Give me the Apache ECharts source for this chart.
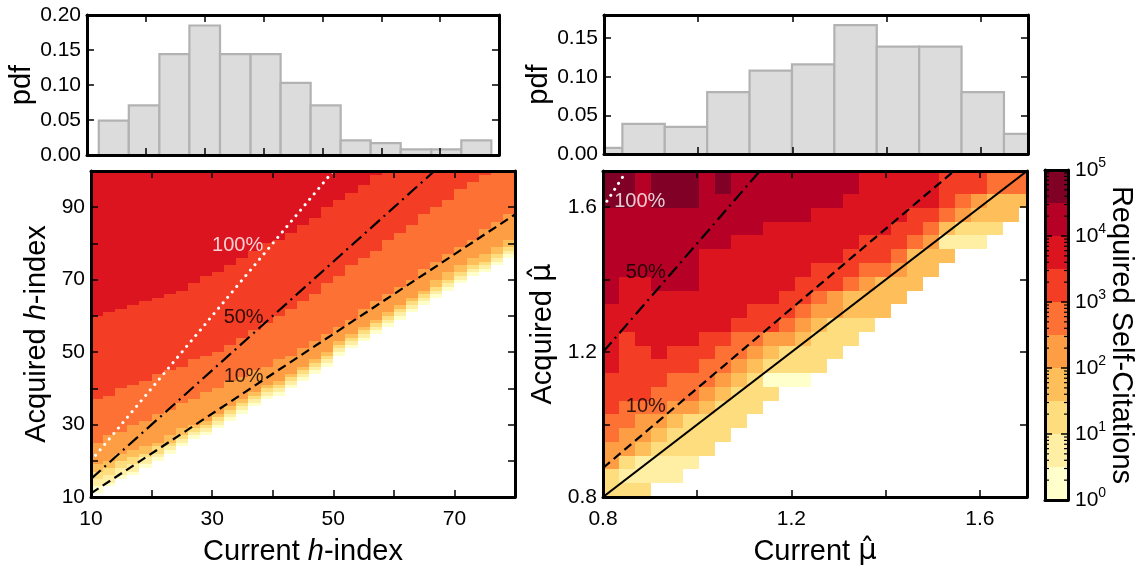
<!DOCTYPE html>
<html><head><meta charset="utf-8">
<script src="https://cdn.jsdelivr.net/npm/echarts/dist/echarts.min.js"></script>
<style>html,body{margin:0;padding:0;background:#fff}#c{width:1143px;height:571px}</style>
</head><body><div id="c"></div>
<script>
// ---------------- DATA ----------------
// top-left histogram of current h-index
const hHistEdges = [12.0, 17.1, 22.3, 27.4, 32.6, 37.8, 42.9, 48.0, 53.1, 58.2, 63.3, 68.5, 73.6, 78.7];
const hHistPdf   = [0.049, 0.071, 0.144, 0.185, 0.144, 0.144, 0.103, 0.071, 0.021, 0.017, 0.008, 0.008, 0.021];
// top-right histogram of current mu-hat
const muHistEdges = [0.749, 0.839, 0.929, 1.019, 1.109, 1.199, 1.289, 1.379, 1.469, 1.559, 1.649, 1.739];
const muHistPdf   = [0.008, 0.039, 0.035, 0.080, 0.108, 0.116, 0.167, 0.139, 0.139, 0.080, 0.026];

// left heatmap: columns of current h (2 wide), tops of each colour level (acquired h)
const hColWidth = 2;
const hCols     = [10,12,14,16,18,20,22,24,26,28,30,32,34,36,38,40,42,44,46,48,50,52,54,56,58,60,62,64,66,68,70,72,74,76,78];
const hWhiteTop = [11,13,15,16,18,20,22,24,26,27,29,31,33,35,37,38,40,42,44,46,49,51,53,55,57,59,61,63,65,67,69,71,72,74,76];
const hTop1     = [13,14,16,17,19,21,23,25,27,28,30,32,34,36,38,39,41,43,45,47,50,52,54,56,58,60,62,64,66,68,70,72,73,75,77];
const hTop2     = [15,16,18,19,21,22,24,26,28,29,31,33,35,37,39,40,42,44,46,48,51,53,55,57,59,61,63,65,67,69,71,73,74,76,78];
const hTop3     = [17,18,20,21,22,24,25,27,29,30,32,34,36,38,40,41,43,45,47,49,52,54,56,58,60,62,64,66,68,70,72,74,75,77,79];
const hTop4     = [19,20,22,23,24,25,27,29,30,31,33,35,37,39,41,42,44,46,48,50,53,55,57,59,61,63,65,67,70,72,74,76,77,79,81];
const hTop5     = [25,27,28,30,31,33,34,36,37,39,40,42,43,45,46,48,49,51,53,55,57,59,62,64,66,68,70,73,75,77,79,81,84,86,88];
const hTop6     = [37,38,40,41,42,44,45,46,48,49,50,52,54,56,58,60,62,64,66,69,71,74,76,78,81,83,85,88,90,92,95,97,99,100,100];
const hTop7     = [60,61,62,63,64,65,66,67,69,71,72,74,76,78,80,81,83,85,87,90,92,94,96,99,100,100,100,100,100,100,100,100,100,100,100];
const hMaxY = 100;

// right heatmap: cell grid (mu-hat), rows listed from top to bottom as [level, run length]
const muX0 = 0.8, muCellW = 0.034, muY0 = 0.8, muCellH = 0.038;
const muRows = [
  [[10,2],[9,1],[10,3],[9,1],[10,1],[9,8],[8,5],[7,3],[6,3]],
  [[10,2],[9,1],[10,3],[9,1],[10,1],[9,8],[8,5],[7,3],[6,3]],
  [[10,2],[9,1],[10,3],[9,9],[8,6],[7,1],[6,1],[5,1],[4,3]],
  [[9,13],[8,6],[7,2],[6,1],[5,1],[4,3],[0,1]],
  [[9,10],[8,8],[7,2],[6,1],[4,1],[3,3],[0,2]],
  [[9,8],[8,8],[7,3],[6,1],[5,1],[2,3],[0,3]],
  [[9,6],[8,9],[7,3],[6,1],[4,3],[0,5]],
  [[9,6],[8,7],[7,3],[6,2],[5,1],[4,2],[0,6]],
  [[9,1],[8,2],[9,3],[8,6],[7,3],[6,1],[5,1],[4,3],[0,7]],
  [[9,1],[8,10],[7,2],[6,1],[5,1],[4,4],[0,8]],
  [[8,9],[7,3],[6,1],[5,2],[4,3],[0,9]],
  [[8,8],[7,3],[6,1],[5,1],[4,1],[3,3],[0,10]],
  [[8,1],[7,1],[8,4],[7,2],[6,2],[5,2],[4,1],[3,3],[0,11]],
  [[8,1],[7,2],[8,1],[7,3],[6,2],[5,1],[4,1],[3,4],[0,12]],
  [[8,1],[7,5],[6,2],[5,1],[4,1],[3,4],[0,13]],
  [[7,4],[6,3],[5,1],[4,1],[3,1],[1,3],[0,14]],
  [[7,3],[6,3],[5,1],[4,1],[3,3],[0,16]],
  [[7,1],[6,3],[5,2],[4,1],[3,3],[0,17]],
  [[6,2],[5,2],[4,1],[3,4],[0,18]],
  [[6,1],[5,2],[4,1],[3,4],[0,19]],
  [[5,2],[4,1],[3,4],[0,20]],
  [[5,1],[3,1],[2,4],[0,21]],
  [[3,1],[2,4],[0,22]],
  [[3,3],[0,24]]
];

// reference lines (10%, 50%, 100% increase) and their labels
const hLine10  = [[10, 11], [80, 88]];
const hLine50  = [[10, 15], [66.7, 100]];
const hLine100 = [[10, 20], [50, 100]];
const muLineEq  = [[0.8, 0.8], [1.7, 1.7]];
const muLine10  = [[0.8, 0.88], [1.545, 1.7]];
const muLine50  = [[0.8, 1.2], [1.133, 1.7]];
const muLine100 = [[0.8, 1.6], [0.85, 1.7]];
const hLabels  = [['100%', 34.2, 79.4], ['50%', 35.2, 59.5], ['10%', 35.2, 43.3]];
const muLabels = [['100%', 0.878, 1.616], ['50%', 0.891, 1.420], ['10%', 0.891, 1.051]];

// colour bar: log10 edges of the 10 levels
const cbEdges = [0, 0.5, 1, 1.5, 2, 2.5, 3, 3.5, 4, 4.5, 5];
const levelColors = ['#ffffcc','#ffefa5','#fedd7f','#febf5a','#fd9d44','#fd7134','#f43d25','#db141f','#b60026','#800026'];

// ---------------- BUILD ----------------
const FONT = 'Liberation Sans, Arial, sans-serif';
const TICKFS = 21, NAMEFS = 29;
const histLeftData = hHistPdf.map((v, i) => [hHistEdges[i], hHistEdges[i + 1], 0, v]);
const histRightData = muHistPdf.map((v, i) => [muHistEdges[i], muHistEdges[i + 1], 0, v]);

const heatLeft = [];
hCols.forEach((x0, i) => {
  const b = [hWhiteTop[i], hTop1[i], hTop2[i], hTop3[i], hTop4[i], hTop5[i], hTop6[i], hTop7[i], hMaxY];
  for (let k = 0; k < 8; k++) if (b[k + 1] > b[k]) heatLeft.push([x0, x0 + hColWidth, b[k], b[k + 1], k + 1]);
});
const heatRight = [];
const nRows = muRows.length;
muRows.forEach((runs, r) => {
  const rowFromBottom = nRows - 1 - r;
  const y0 = muY0 + rowFromBottom * muCellH;
  let c = 0;
  runs.forEach(([lvl, n]) => {
    for (let j = 0; j < n; j++, c++) {
      if (lvl > 0) { const x0 = muX0 + c * muCellW; heatRight.push([x0, x0 + muCellW, y0, y0 + muCellH, lvl]); }
    }
  });
});
const cbData = cbEdges.slice(0, -1).map((e, i) => [0, 1, e, cbEdges[i + 1], i + 1]);
const cbMinor = [];
for (let d = 0; d < 5; d++) for (let m = 2; m <= 9; m++) cbMinor.push([d + Math.log10(m)]);

function clipTo(params, rect) {
  const cs = params.coordSys;
  return echarts.graphic.clipRectByRect(rect, { x: cs.x, y: cs.y, width: cs.width, height: cs.height });
}
function cellRender(params, api) {
  const p0 = api.coord([api.value(0), api.value(3)]);
  const p1 = api.coord([api.value(1), api.value(2)]);
  const r = clipTo(params, { x: p0[0], y: p0[1], width: p1[0] - p0[0], height: p1[1] - p0[1] });
  if (!r) return;
  const x0 = Math.round(r.x), y0 = Math.round(r.y);
  const x1 = Math.round(r.x + r.width), y1 = Math.round(r.y + r.height);
  if (x1 <= x0 || y1 <= y0) return;
  const f = levelColors[api.value(4) - 1];
  return { type: 'rect', shape: { x: x0, y: y0, width: x1 - x0, height: y1 - y0 }, style: { fill: f } };
}
function histRender(params, api) {
  const p0 = api.coord([api.value(0), api.value(3)]);
  const p1 = api.coord([api.value(1), api.value(2)]);
  const cs = params.coordSys;
  let x0 = Math.max(p0[0], cs.x), x1 = Math.min(p1[0], cs.x + cs.width);
  if (x1 <= x0) return;
  return { type: 'rect', shape: { x: x0, y: p0[1], width: x1 - x0, height: p1[1] - p0[1] },
    style: { fill: '#dcdcdc', stroke: '#b2b2b2', lineWidth: 2.2 } };
}

const tick = { show: true, inside: true, length: 7, lineStyle: { color: '#000', width: 1.5 } };
const frameLine = { show: true, onZero: false, lineStyle: { color: '#000', width: 3 } };
const lblBase = { color: '#000', fontSize: TICKFS, fontFamily: FONT };
const nameStyle = { color: '#000', fontSize: NAMEFS, fontFamily: FONT, rich: {
  i: { fontStyle: 'italic', fontSize: NAMEFS, fontFamily: FONT, color: '#000' },
  m: { fontSize: NAMEFS, fontFamily: 'DejaVu Sans', color: '#000' } } };

function near(v, list, tol) { return list.some(t => Math.abs(v - t) < tol); }

function mkAxis(gi, pos, min, max, iv, fmt, margin, name, gap, extra) {
  const a = { type: 'value', gridIndex: gi, position: pos, min, max, interval: iv, z: 10,
    axisLine: frameLine, axisTick: tick, splitLine: { show: false },
    axisLabel: fmt ? Object.assign({ show: true, formatter: fmt, margin: margin, showMaxLabel: true, showMinLabel: true }, lblBase) : { show: false } };
  if (name) { a.name = name; a.nameLocation = 'middle'; a.nameGap = gap; a.nameTextStyle = nameStyle; }
  return Object.assign(a, extra || {});
}

const fmtHx = v => near(v, [10, 30, 50, 70], 1e-6) ? String(Math.round(v)) : '';
const fmtHy = v => near(v, [10, 30, 50, 70, 90], 1e-6) ? String(Math.round(v)) : '';
const fmtMu = v => near(v, [0.8, 1.2, 1.6], 1e-6) ? (Math.round(v * 10) / 10).toFixed(1) : '';
const fmtPdfL = v => near(v, [0, 0.05, 0.1, 0.15, 0.2], 1e-6) ? v.toFixed(2) : '';
const fmtPdfR = v => near(v, [0, 0.05, 0.1, 0.15], 1e-6) ? v.toFixed(2) : '';

const grids = [
  { left: 87, top: 15, width: 412, height: 140 },
  { left: 604, top: 15, width: 424, height: 139 },
  { left: 91, top: 171, width: 424, height: 326 },
  { left: 603, top: 171, width: 424, height: 327 },
  { left: 1045, top: 170, width: 23, height: 330 }
];

const xAxis = [
  mkAxis(0, 'bottom', 10, 80, 10, null),
  mkAxis(0, 'top', 10, 80, 10, null),
  mkAxis(1, 'bottom', 0.8, 1.7, 0.2, null),
  mkAxis(1, 'top', 0.8, 1.7, 0.2, null),
  mkAxis(2, 'bottom', 10, 80, 10, fmtHx, 12, 'Current {i|h}-index', 40),
  mkAxis(2, 'top', 10, 80, 10, null),
  mkAxis(3, 'bottom', 0.8, 1.7, 0.2, fmtMu, 12, 'Current {m|\u03bc\u0302}', 40),
  mkAxis(3, 'top', 0.8, 1.7, 0.2, null),
  mkAxis(4, 'bottom', 0, 1, 1, null, 0, null, 0, { axisTick: { show: false } }),
  mkAxis(4, 'top', 0, 1, 1, null, 0, null, 0, { axisTick: { show: false } })
];
const yAxis = [
  mkAxis(0, 'left', 0, 0.2, 0.05, fmtPdfL, 6, 'pdf', 48),
  mkAxis(0, 'right', 0, 0.2, 0.05, null),
  mkAxis(1, 'left', 0, 0.18, 0.05, fmtPdfR, 6, 'pdf', 48),
  mkAxis(1, 'right', 0, 0.18, 0.05, null),
  mkAxis(2, 'left', 10, 100, 10, fmtHy, 6, 'Acquired {i|h}-index', 40),
  mkAxis(2, 'right', 10, 100, 10, null),
  mkAxis(3, 'left', 0.8, 1.7, 0.2, fmtMu, 6, 'Acquired {m|\u03bc\u0302}', 46),
  mkAxis(3, 'right', 0.8, 1.7, 0.2, null),
  mkAxis(4, 'left', 0, 5, 1, null),
  mkAxis(4, 'right', 0, 5, 1, null, 0, null, 0,
    { axisLabel: { show: true, margin: 7, formatter: v => '{b|10}{s|' + Math.round(v) + '}', color: '#000', fontFamily: FONT,
      rich: { b: { fontSize: TICKFS, fontFamily: FONT, color: '#000' }, s: { fontSize: 14, fontFamily: FONT, color: '#000', padding: [0, 0, 13, 0] } } } })
];

function lineSeries(gi, data, color, type, width, cap) {
  return { type: 'line', xAxisIndex: 2 * gi, yAxisIndex: 2 * gi, data, showSymbol: false, symbol: 'none', clip: true, z: 5,
    silent: true, lineStyle: { color, type, width, cap: cap || 'butt' } };
}
function labelSeries(gi, labels) {
  return { type: 'scatter', xAxisIndex: 2 * gi, yAxisIndex: 2 * gi, symbolSize: 0, z: 6, silent: true,
    data: labels.map(l => ({ value: [l[1], l[2]], name: l[0],
      label: { show: true, position: 'inside', formatter: l[0], fontSize: 20, fontFamily: FONT, color: l[0] === '100%' ? '#fff' : '#000' } })) };
}

const series = [
  { type: 'custom', xAxisIndex: 0, yAxisIndex: 0, data: histLeftData, renderItem: histRender, encode: { x: [0, 1], y: [2, 3] }, silent: true },
  { type: 'custom', xAxisIndex: 2, yAxisIndex: 2, data: histRightData, renderItem: histRender, encode: { x: [0, 1], y: [2, 3] }, silent: true },
  { type: 'custom', xAxisIndex: 4, yAxisIndex: 4, data: heatLeft, renderItem: cellRender, encode: { x: [0, 1], y: [2, 3] }, silent: true },
  { type: 'custom', xAxisIndex: 6, yAxisIndex: 6, data: heatRight, renderItem: cellRender, encode: { x: [0, 1], y: [2, 3] }, silent: true },
  { type: 'custom', xAxisIndex: 8, yAxisIndex: 8, data: cbData, renderItem: cellRender, encode: { x: [0, 1], y: [2, 3] }, silent: true },
  { type: 'custom', xAxisIndex: 8, yAxisIndex: 8, data: cbMinor, z: 8, silent: true, encode: { y: 0 },
    renderItem: function (params, api) {
      const a = api.coord([0, api.value(0)]), b = api.coord([1, api.value(0)]);
      const st = { stroke: '#000', lineWidth: 1.2 };
      return { type: 'group', children: [
        { type: 'line', shape: { x1: a[0], y1: a[1], x2: a[0] + 4, y2: a[1] }, style: st },
        { type: 'line', shape: { x1: b[0] - 4, y1: b[1], x2: b[0], y2: b[1] }, style: st } ] };
    } },
  lineSeries(2, hLine10, '#000', [9, 5], 2.2),
  lineSeries(2, hLine50, '#000', [13, 5, 2, 5], 2.2),
  lineSeries(2, hLine100, '#fff', [0.1, 7], 3, 'round'),
  lineSeries(3, muLineEq, '#000', 'solid', 2.2),
  lineSeries(3, muLine10, '#000', [9, 5], 2.2),
  lineSeries(3, muLine50, '#000', [13, 5, 2, 5], 2.2),
  lineSeries(3, muLine100, '#fff', [0.1, 7], 3, 'round'),
  labelSeries(2, hLabels),
  labelSeries(3, muLabels)
];

const chart = echarts.init(document.getElementById('c'));
chart.setOption({
  animation: false,
  backgroundColor: '#fff',
  grid: grids,
  xAxis, yAxis, series,
  graphic: [{ type: 'text', x: 1121, y: 335, rotation: -Math.PI / 2, silent: true,
    style: { text: 'Required Self-Citations', fontSize: NAMEFS, fontFamily: FONT, fill: '#000', align: 'center', verticalAlign: 'middle' } }]
});
</script>
</body></html>
